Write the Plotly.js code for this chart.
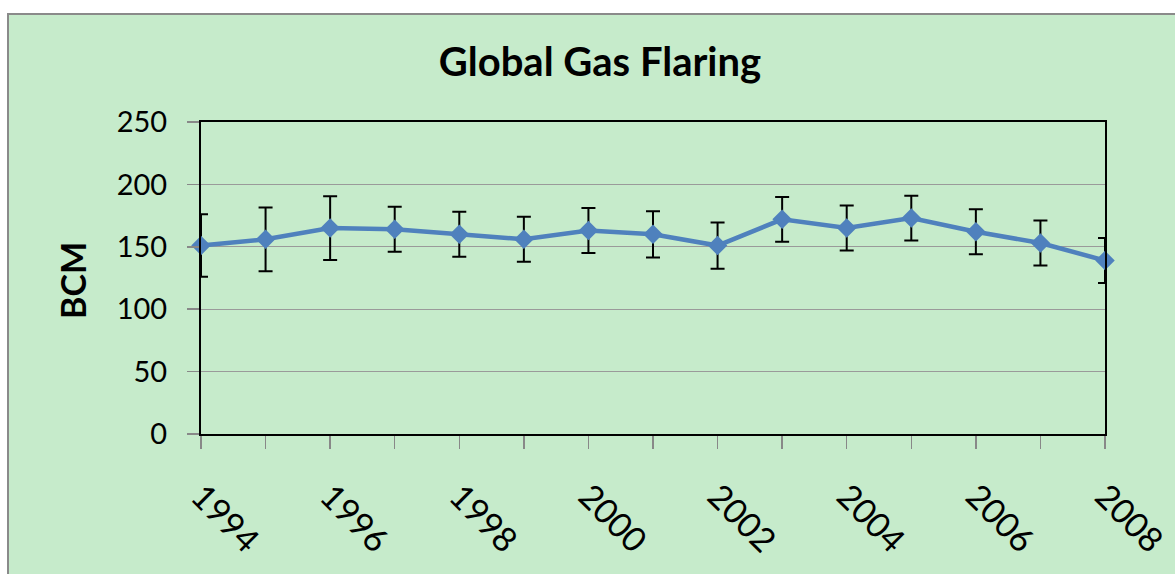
<!DOCTYPE html>
<html>
<head>
<meta charset="utf-8">
<script src="https://cdn.plot.ly/plotly-3.0.1.min.js"></script>
<style>html,body{margin:0;padding:0;background:#fff;}#chart{width:1175px;height:574px;}</style>
</head>
<body>
<div id="chart"></div>
<script>
const years = [1994,1995,1996,1997,1998,1999,2000,2001,2002,2003,2004,2005,2006,2007,2008];
const flaringBCM = [151,156,165,164,160,156,163,160,151,172,165,173,162,153,139];
const errorBCM = [25,25.5,25.5,18,18,18,18,18.5,18.5,18,18,18,18,18,18];
const chartTitle = "Global Gas Flaring";
const yTitle = "BCM";

const FONT = "Lato, 'Open Sans', sans-serif";
const L = 201, R = 1105, T = 122, B = 434;
const W = R - L, H = B - T;
const px = v => (v - L) / W;
const py = v => (B - v) / H;

const trace = {
  x: years,
  y: flaringBCM,
  type: 'scatter',
  mode: 'lines+markers',
  line: {color: '#4F81BD', width: 4.5},
  marker: {symbol: 'diamond', size: 15, color: '#4F81BD'},
  error_y: {type: 'data', array: errorBCM, visible: true, color: '#000', thickness: 2, width: 7},
  cliponaxis: false,
  hoverinfo: 'x+y'
};

const layout = {
  width: 1175, height: 574,
  margin: {l: L, r: 1175 - R, t: T, b: 574 - B, pad: 0},
  paper_bgcolor: '#ffffff',
  plot_bgcolor: 'rgba(0,0,0,0)',
  showlegend: false,
  title: {text: chartTitle, font: {family: FONT, size: 40, color: '#000', weight: 'bold'}, x: 600/1175, xref: 'container', xanchor: 'center', y: 1 - 62/574, yref: 'container', yanchor: 'middle'},
  xaxis: {
    range: [1994, 2008], tick0: 1994, dtick: 2, tickmode: 'linear',
    ticks: 'outside', ticklen: 13, tickcolor: '#888', tickwidth: 1.5,
    minor: {dtick: 1, tick0: 1994, ticks: 'outside', ticklen: 13, tickcolor: '#888', tickwidth: 1.5, showgrid: false},
    tickangle: 45, tickfont: {family: FONT, size: 34, color: '#000'},
    ticklabelstandoff: 14,
    showgrid: false, zeroline: false,
    showline: true, linecolor: '#000', linewidth: 2, mirror: true
  },
  yaxis: {
    range: [0, 250], dtick: 50, tickmode: 'linear',
    ticks: 'outside', ticklen: 12, tickcolor: '#888', tickwidth: 1.5,
    tickfont: {family: FONT, size: 29, color: '#000'},
    showgrid: true, gridcolor: '#9a9a9a', gridwidth: 1.2,
    zeroline: false,
    showline: true, linecolor: '#000', linewidth: 2, mirror: true,
    ticklabelstandoff: 14
  },
  shapes: [{
    type: 'rect', xref: 'paper', yref: 'paper', layer: 'below',
    x0: px(8), x1: px(1190), y0: py(590), y1: py(14),
    fillcolor: '#C6EBCB', line: {color: '#8a8a8a', width: 2}
  }],
  annotations: [{
    text: yTitle, xref: 'paper', yref: 'paper', x: px(72), y: py(281),
    xanchor: 'center', yanchor: 'middle', textangle: -90, showarrow: false,
    font: {family: FONT, size: 34, color: '#000', weight: 'bold'}
  }]
};

Plotly.newPlot('chart', [trace], layout, {displayModeBar: false, staticPlot: true});
</script>
</body>
</html>
